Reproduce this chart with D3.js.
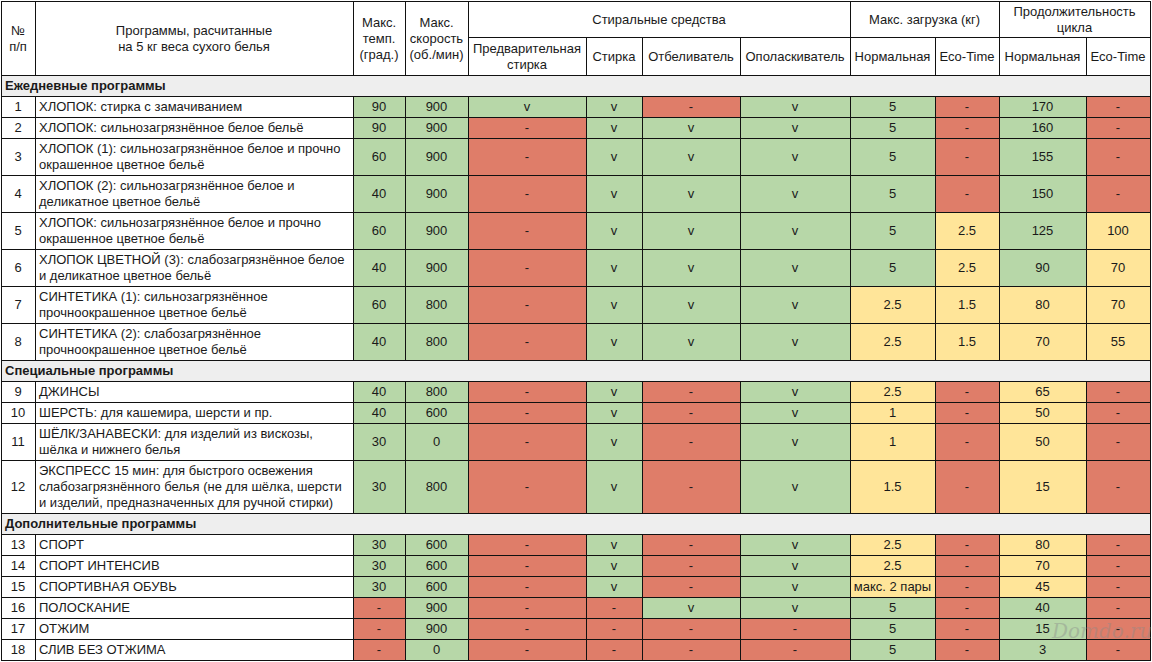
<!DOCTYPE html>
<html lang="ru">
<head>
<meta charset="UTF-8">
<title>Программы стирки</title>
<script src="https://cdn.jsdelivr.net/npm/d3@7"></script>
<style>
  body { margin: 0; background: #fff; }
  text { font-family: "Liberation Sans", Arial, sans-serif; font-size: 13px; fill: #1a1a1a; }
  .cell { stroke: #111; stroke-width: 1; }
  .band text { font-weight: bold; }
  .mark { font-family: "DejaVu Serif", serif; font-style: italic; font-size: 20px; fill: #8a8a8a; opacity: 0.4; }
</style>
</head>
<body>
<svg width="1152" height="662"></svg>
<script>
// --- data -------------------------------------------------------------
const sectionTitles = ["Ежедневные программы", "Специальные программы", "Дополнительные программы"];
const sectionStart = [0, 8, 12];   // index of first row in each section

const rowNums = [1, 2, 3, 4, 5, 6, 7, 8, 9, 10, 11, 12, 13, 14, 15, 16, 17, 18];
const programs = [
  "ХЛОПОК: стирка с замачиванием",
  "ХЛОПОК: сильнозагрязнённое белое бельё",
  "ХЛОПОК (1): сильнозагрязнённое белое и прочно\nокрашенное цветное бельё",
  "ХЛОПОК (2): сильнозагрязнённое белое и\nделикатное цветное бельё",
  "ХЛОПОК: сильнозагрязнённое белое и прочно\nокрашенное цветное бельё",
  "ХЛОПОК ЦВЕТНОЙ (3): слабозагрязнённое белое\nи деликатное цветное бельё",
  "СИНТЕТИКА (1): сильнозагрязнённое\nпрочноокрашенное цветное бельё",
  "СИНТЕТИКА (2): слабозагрязнённое\nпрочноокрашенное цветное бельё",
  "ДЖИНСЫ",
  "ШЕРСТЬ: для кашемира, шерсти и пр.",
  "ШЁЛК/ЗАНАВЕСКИ: для изделий из вискозы,\nшёлка и нижнего белья",
  "ЭКСПРЕСС 15 мин: для быстрого освежения\nслабозагрязнённого белья (не для шёлка, шерсти\nи изделий, предназначенных для ручной стирки)",
  "СПОРТ",
  "СПОРТ ИНТЕНСИВ",
  "СПОРТИВНАЯ ОБУВЬ",
  "ПОЛОСКАНИЕ",
  "ОТЖИМ",
  "СЛИВ БЕЗ ОТЖИМА"
];
const temps  = [90, 90, 60, 40, 60, 40, 60, 40, 40, 40, 30, 30, 30, 30, 30, "-", "-", "-"];
const speeds = [900, 900, 900, 900, 900, 900, 800, 800, 800, 600, 0, 800, 600, 600, 600, 900, 900, 0];
const prewash = ["v", "-", "-", "-", "-", "-", "-", "-", "-", "-", "-", "-", "-", "-", "-", "-", "-", "-"];
const wash    = ["v", "v", "v", "v", "v", "v", "v", "v", "v", "v", "v", "v", "v", "v", "v", "-", "-", "-"];
const bleach  = ["-", "v", "v", "v", "v", "v", "v", "v", "-", "-", "-", "-", "-", "-", "-", "v", "-", "-"];
const rinse   = ["v", "v", "v", "v", "v", "v", "v", "v", "v", "v", "v", "v", "v", "v", "v", "v", "-", "-"];
const loadNormal = [5, 5, 5, 5, 5, 5, 2.5, 2.5, 2.5, 1, 1, 1.5, 2.5, 2.5, "макс. 2 пары", 5, 5, 5];
const loadEco    = ["-", "-", "-", "-", 2.5, 2.5, 1.5, 1.5, "-", "-", "-", "-", "-", "-", "-", "-", "-", "-"];
const durNormal  = [170, 160, 155, 150, 125, 90, 80, 70, 65, 50, 50, 15, 80, 70, 45, 40, 15, 3];
const durEco     = ["-", "-", "-", "-", 100, 70, 70, 55, "-", "-", "-", "-", "-", "-", "-", "-", "-", "-"];
// 1 = reduced load (yellow) in the "normal" load / duration columns
const reduced    = [0, 0, 0, 0, 0, 0, 1, 1, 1, 1, 1, 1, 1, 1, 1, 0, 0, 0];

// --- layout -----------------------------------------------------------
const svg = d3.select("svg");
const W = 1152;
const topY = 1, head1 = 37, head2 = 75;
const lineH = 16, baseH = 21;

const columns = [
  { key: "num",   x0: 1,    x1: 35,   values: rowNums,    kind: "plain" },
  { key: "name",  x0: 35,   x1: 353,  values: programs,   kind: "name" },
  { key: "temp",  x0: 353,  x1: 405,  values: temps,      kind: "param" },
  { key: "speed", x0: 405,  x1: 468,  values: speeds,     kind: "param" },
  { key: "pre",   x0: 468,  x1: 586,  values: prewash,    kind: "param" },
  { key: "wash",  x0: 586,  x1: 642,  values: wash,       kind: "param" },
  { key: "bl",    x0: 642,  x1: 740,  values: bleach,     kind: "param" },
  { key: "rin",   x0: 740,  x1: 850,  values: rinse,      kind: "param" },
  { key: "ln",    x0: 850,  x1: 935,  values: loadNormal, kind: "normal" },
  { key: "le",    x0: 935,  x1: 999,  values: loadEco,    kind: "eco" },
  { key: "dn",    x0: 999,  x1: 1086, values: durNormal,  kind: "normal" },
  { key: "de",    x0: 1086, x1: 1150, values: durEco,     kind: "eco" }
];
const colX = d3.scaleOrdinal().domain(columns.map(c => c.key)).range(columns.map(c => c.x0));
const colW = d3.scaleOrdinal().domain(columns.map(c => c.key)).range(columns.map(c => c.x1 - c.x0));

const fill = d3.scaleOrdinal()
  .domain(["yes", "part", "no", "none", "band"])
  .range(["#b7d7a8", "#ffe599", "#df7d69", "#ffffff", "#eeeeee"]);

function status(col, v, i) {
  if (col.kind === "plain" || col.kind === "name") return "none";
  if (v === "-") return "no";
  if (col.kind === "eco") return "part";
  if (col.kind === "normal") return reduced[i] ? "part" : "yes";
  return "yes";
}

// vertical layout: bands + rows
const blocks = [];
let y = head2;
rowNums.forEach((n, i) => {
  const s = sectionStart.indexOf(i);
  if (s >= 0) { blocks.push({ type: "band", title: sectionTitles[s], y, h: baseH }); y += baseH; }
  const lines = programs[i].split("\n").length;
  const h = baseH + (lines - 1) * lineH;
  blocks.push({ type: "row", i, y, h });
  y += h;
});

svg.append("rect").attr("width", W).attr("height", 662).attr("fill", "#fff");

function multiline(g, str, x, cy, anchor) {
  const lines = String(str).split("\n");
  const t = g.append("text").attr("x", x).attr("text-anchor", anchor);
  lines.forEach((l, k) => {
    t.append("tspan").attr("x", x)
      .attr("y", cy + (k - (lines.length - 1) / 2) * lineH + 4.5)
      .text(l);
  });
}

// --- header -----------------------------------------------------------
const header = [
  { text: "№\nп/п", from: "num", to: "num", y0: topY, y1: head2 },
  { text: "Программы, расчитанные\nна 5 кг веса сухого белья", from: "name", to: "name", y0: topY, y1: head2 },
  { text: "Макс.\nтемп.\n(град.)", from: "temp", to: "temp", y0: topY, y1: head2 },
  { text: "Макс.\nскорость\n(об./мин)", from: "speed", to: "speed", y0: topY, y1: head2 },
  { text: "Стиральные средства", from: "pre", to: "rin", y0: topY, y1: head1 },
  { text: "Макс. загрузка (кг)", from: "ln", to: "le", y0: topY, y1: head1 },
  { text: "Продолжительность\nцикла", from: "dn", to: "de", y0: topY, y1: head1 },
  { text: "Предварительная\nстирка", from: "pre", to: "pre", y0: head1, y1: head2 },
  { text: "Стирка", from: "wash", to: "wash", y0: head1, y1: head2 },
  { text: "Отбеливатель", from: "bl", to: "bl", y0: head1, y1: head2 },
  { text: "Ополаскиватель", from: "rin", to: "rin", y0: head1, y1: head2 },
  { text: "Нормальная", from: "ln", to: "ln", y0: head1, y1: head2 },
  { text: "Eco-Time", from: "le", to: "le", y0: head1, y1: head2 },
  { text: "Нормальная", from: "dn", to: "dn", y0: head1, y1: head2 },
  { text: "Eco-Time", from: "de", to: "de", y0: head1, y1: head2 }
];
const hg = svg.append("g");
header.forEach(h => {
  const x0 = colX(h.from), x1 = colX(h.to) + colW(h.to);
  hg.append("rect").attr("class", "cell")
    .attr("x", x0 + 0.5).attr("y", h.y0 + 0.5)
    .attr("width", x1 - x0).attr("height", h.y1 - h.y0)
    .attr("fill", fill("none"));
  multiline(hg, h.text, (x0 + x1) / 2, (h.y0 + h.y1) / 2, "middle");
});

// --- body -------------------------------------------------------------
const body = svg.append("g");
blocks.forEach(b => {
  if (b.type === "band") {
    const g = body.append("g").attr("class", "band");
    g.append("rect").attr("class", "cell")
      .attr("x", 1.5).attr("y", b.y + 0.5)
      .attr("width", 1149).attr("height", b.h)
      .attr("fill", fill("band"));
    g.append("text").attr("x", 5).attr("y", b.y + b.h / 2 + 4.5).text(b.title);
    return;
  }
  const g = body.append("g");
  columns.forEach(c => {
    const v = c.values[b.i];
    g.append("rect").attr("class", "cell")
      .attr("x", colX(c.key) + 0.5).attr("y", b.y + 0.5)
      .attr("width", colW(c.key)).attr("height", b.h)
      .attr("fill", fill(status(c, v, b.i)));
    if (c.kind === "name") {
      multiline(g, v, colX(c.key) + 4, b.y + b.h / 2, "start");
    } else {
      multiline(g, v, colX(c.key) + colW(c.key) / 2, b.y + b.h / 2, "middle");
    }
  });
});

// watermark
svg.append("text").attr("class", "mark").attr("x", 1052).attr("y", 638).text("Domdo.ru");
</script>
</body>
</html>
